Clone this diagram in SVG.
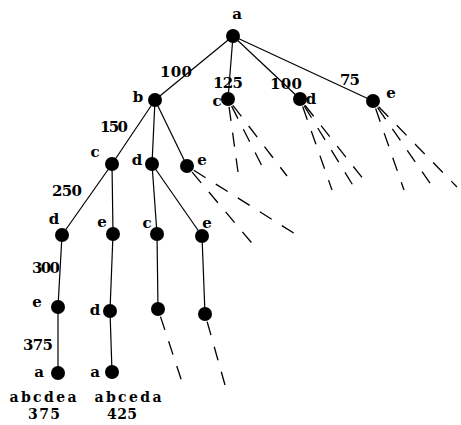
<svg xmlns="http://www.w3.org/2000/svg" width="461" height="425" viewBox="0 0 461 425">
<style>
.e{stroke:#000;stroke-width:1.2;fill:none}
.d{stroke:#000;stroke-width:1.3;fill:none;stroke-dasharray:14 12;stroke-dashoffset:-8}
.n{fill:#000}
text{font-family:"DejaVu Serif","Liberation Serif",serif;font-weight:bold;font-size:15px;fill:#000;text-anchor:middle}
.s{font-size:14px}
</style>
<rect width="461" height="425" fill="#fff"/>
<g id="connectors">
<line class="e" x1="233" y1="36" x2="155" y2="100"/>
<line class="e" x1="233" y1="36" x2="228" y2="99"/>
<line class="e" x1="233" y1="36" x2="300" y2="99"/>
<line class="e" x1="233" y1="36" x2="373" y2="101"/>
<line class="e" x1="155" y1="100" x2="112" y2="164"/>
<line class="e" x1="155" y1="100" x2="152" y2="164"/>
<line class="e" x1="155" y1="100" x2="187" y2="166"/>
<line class="e" x1="112" y1="164" x2="62" y2="235"/>
<line class="e" x1="112" y1="164" x2="113" y2="234"/>
<line class="e" x1="152" y1="164" x2="157" y2="234"/>
<line class="e" x1="152" y1="164" x2="202" y2="236"/>
<line class="e" x1="62" y1="235" x2="58" y2="307"/>
<line class="e" x1="58" y1="307" x2="58" y2="373"/>
<line class="e" x1="113" y1="234" x2="110" y2="311"/>
<line class="e" x1="110" y1="311" x2="112" y2="372"/>
<line class="e" x1="157" y1="234" x2="158" y2="309"/>
<line class="e" x1="202" y1="236" x2="205" y2="314"/>
<line class="d" x1="228" y1="99" x2="238" y2="172"/>
<line class="d" x1="228" y1="99" x2="265" y2="172"/>
<line class="d" x1="228" y1="99" x2="287" y2="176"/>
<line class="d" x1="300" y1="99" x2="332" y2="190"/>
<line class="d" x1="300" y1="99" x2="357" y2="192"/>
<line class="d" x1="300" y1="99" x2="364" y2="180"/>
<line class="d" x1="373" y1="101" x2="404" y2="190"/>
<line class="d" x1="373" y1="101" x2="432" y2="186"/>
<line class="d" x1="373" y1="101" x2="457" y2="187"/>
<line class="d" x1="187" y1="166" x2="256" y2="248"/>
<line class="d" x1="187" y1="166" x2="300" y2="237"/>
<line class="d" x1="158" y1="309" x2="182" y2="382"/>
<line class="d" x1="205" y1="314" x2="225" y2="385"/>
</g>
<g id="labels">
<text x="176" y="77" textLength="32">100</text>
<text x="228" y="88" textLength="30">125</text>
<text x="286" y="89" textLength="32">100</text>
<text x="350" y="85" textLength="20">75</text>
<text x="114" y="132" textLength="28">150</text>
<text x="67" y="196" textLength="30">250</text>
<text x="46" y="273" textLength="28">300</text>
<text x="38" y="350" textLength="30">375</text>
</g>
<g id="n_a"><circle class="n" cx="233" cy="36" r="7"/><text x="237" y="19">a</text></g>
<g id="n_b"><circle class="n" cx="155" cy="100" r="7"/><text x="138" y="102">b</text></g>
<g id="n_c1"><circle class="n" cx="228" cy="99" r="7"/><text x="217" y="106">c</text></g>
<g id="n_d1"><circle class="n" cx="300" cy="99" r="7"/><text x="311" y="104">d</text></g>
<g id="n_e1"><circle class="n" cx="373" cy="101" r="7"/><text x="391" y="98">e</text></g>
<g id="n_bc"><circle class="n" cx="112" cy="164" r="7"/><text x="95" y="157">c</text></g>
<g id="n_bd"><circle class="n" cx="152" cy="164" r="7"/><text x="137" y="165">d</text></g>
<g id="n_be"><circle class="n" cx="187" cy="166" r="7"/><text x="202" y="165">e</text></g>
<g id="n_bcd"><circle class="n" cx="62" cy="235" r="7"/><text x="54" y="224">d</text></g>
<g id="n_bce"><circle class="n" cx="113" cy="234" r="7"/><text x="102" y="227">e</text></g>
<g id="n_bdc"><circle class="n" cx="157" cy="234" r="7"/><text x="147" y="228">c</text></g>
<g id="n_bde"><circle class="n" cx="202" cy="236" r="7"/><text x="207" y="228">e</text></g>
<g id="n_bcde"><circle class="n" cx="58" cy="307" r="7"/><text x="37" y="307">e</text></g>
<g id="n_bced"><circle class="n" cx="110" cy="311" r="7"/><text x="95" y="315">d</text></g>
<g id="n_bdce"><circle class="n" cx="158" cy="309" r="7"/></g>
<g id="n_bdec"><circle class="n" cx="205" cy="314" r="7"/></g>
<g id="n_bcdea"><circle class="n" cx="58" cy="373" r="7"/><text x="39" y="377">a</text><text class="s" x="43" y="402" textLength="67">abcdea</text><text class="s" x="44" y="419" textLength="32">375</text></g>
<g id="n_bceda"><circle class="n" cx="112" cy="372" r="7"/><text x="95" y="377">a</text><text class="s" x="128" y="402" textLength="67">abceda</text><text class="s" x="122" y="419" textLength="30">425</text></g>
</svg>
